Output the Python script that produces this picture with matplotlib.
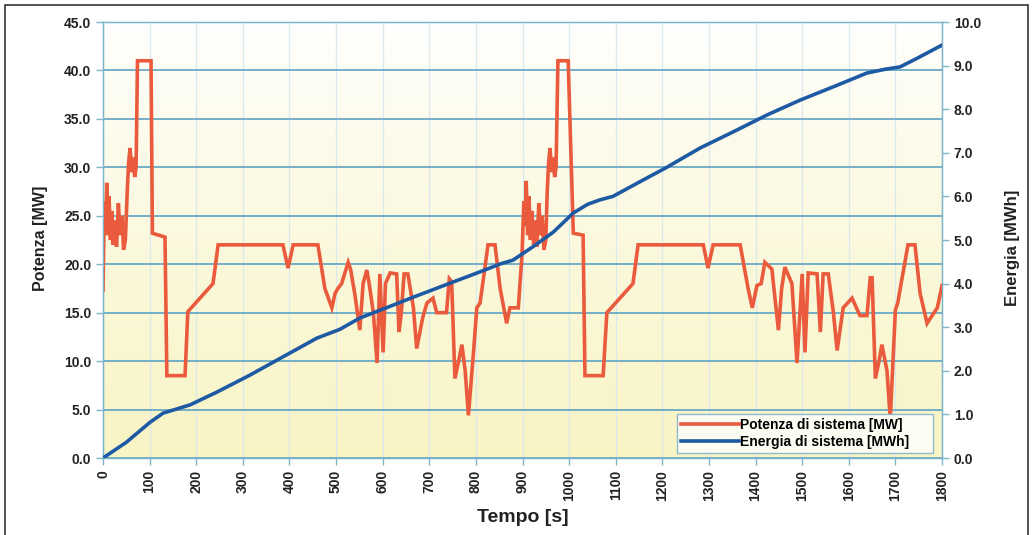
import numpy as np
import matplotlib
matplotlib.use("Agg")
import matplotlib.pyplot as plt
from matplotlib.lines import Line2D
from matplotlib.patches import Rectangle
from matplotlib.legend_handler import HandlerLine2D

plt.rcParams['font.family'] = ['Liberation Sans', 'DejaVu Sans']
plt.rcParams['font.weight'] = 'bold'

# System power [MW] versus time [s]
tempo_potenza = [
    0, 3, 6, 8, 10, 13, 16, 19, 22, 26, 29, 33, 37, 41, 44, 48, 52, 55, 58, 62,
    65, 68, 71, 74, 103, 106, 133, 137, 176, 182, 236, 247, 386, 397, 408, 461,
    476, 491, 498, 504, 512, 526, 531, 540, 551, 558, 566, 571, 580, 588, 594,
    601, 606, 616, 630, 635, 640, 646, 654, 666, 673, 686, 695, 708, 716, 737,
    743, 748, 755, 763, 770, 777, 784, 795, 802, 809, 826, 841, 852, 866, 873,
    891, 899, 903, 906, 908, 911, 914, 917, 920, 924, 927, 931, 935, 939, 942,
    946, 950, 953, 956, 959, 963, 966, 969, 972, 976, 998, 1009, 1030, 1034,
    1073, 1081, 1137, 1148, 1288, 1298, 1309, 1367, 1384, 1393, 1403, 1412,
    1420, 1435, 1449, 1456, 1463, 1478, 1489, 1500, 1506, 1513, 1532, 1539,
    1545, 1556, 1567, 1575, 1588, 1607, 1624, 1639, 1646, 1650, 1657, 1665,
    1671, 1682, 1689, 1700, 1705, 1727, 1742, 1753, 1768, 1776, 1790, 1800,
]
potenza = [
    17.3, 26.5, 24.0, 28.4, 23.0, 27.0, 22.5, 25.5, 22.0, 24.5, 21.8, 26.3,
    23.0, 25.0, 21.5, 22.5, 27.5, 30.5, 32.0, 29.5, 31.0, 29.0, 30.0, 41.0,
    41.0, 23.2, 22.8, 8.5, 8.5, 15.1, 18.0, 22.0, 22.0, 19.6, 22.0, 22.0,
    17.5, 15.5, 17.0, 17.5, 18.0, 20.2, 19.5, 17.0, 13.2, 18.0, 19.4, 18.0,
    15.0, 9.8, 19.0, 10.9, 18.0, 19.1, 19.0, 13.0, 15.0, 19.0, 19.0, 15.5,
    11.3, 14.5, 16.0, 16.5, 15.0, 15.0, 18.5, 18.2, 8.2, 10.0, 11.7, 9.0,
    4.4, 11.0, 15.5, 16.0, 22.0, 22.0, 17.5, 13.9, 15.5, 15.5, 21.0, 26.5,
    24.0, 28.6, 23.0, 27.0, 22.5, 25.5, 22.0, 24.5, 21.8, 26.3, 23.0, 25.0,
    21.5, 22.5, 27.5, 30.5, 32.0, 29.5, 31.0, 29.0, 30.0, 41.0, 41.0, 23.2,
    23.0, 8.5, 8.5, 15.0, 18.0, 22.0, 22.0, 19.6, 22.0, 22.0, 17.5, 15.5,
    17.8, 18.0, 20.2, 19.5, 13.2, 17.5, 19.7, 18.0, 9.8, 19.0, 10.9, 19.1,
    19.0, 13.0, 19.0, 19.0, 15.0, 11.1, 15.5, 16.5, 14.7, 14.7, 18.6, 18.6,
    8.2, 10.0, 11.7, 9.0, 4.0, 15.3, 16.0, 22.0, 22.0, 17.0, 13.9, 14.5,
    15.5, 17.8,
]

# Cumulative system energy [MWh] versus time [s]
tempo_energia = [
    0, 50, 101, 129, 160, 187, 244, 315, 386, 459, 508, 551, 609, 666, 752,
    809, 852, 880, 923, 966, 1009, 1040, 1066, 1094, 1137, 1210, 1281, 1352,
    1425, 1496, 1566, 1639, 1680, 1710, 1747, 1800,
]
energia = [
    0.0, 0.36, 0.82, 1.03, 1.13, 1.22, 1.51, 1.90, 2.32, 2.75, 2.95, 3.21,
    3.45, 3.69, 4.04, 4.27, 4.45, 4.54, 4.85, 5.18, 5.62, 5.82, 5.92, 6.00,
    6.25, 6.67, 7.11, 7.48, 7.87, 8.21, 8.51, 8.83, 8.92, 8.97, 9.17, 9.47,
]

x_ticks = list(range(0, 1801, 100))
y_ticks = [0, 5, 10, 15, 20, 25, 30, 35, 40, 45]
y2_ticks = list(range(0, 11))
legend_labels = ['Potenza di sistema [MW]', 'Energia di sistema [MWh]']

RED = '#ea5a3c'
BLUE = '#1e5aa3'
TXT = '#222222'

W, H = 1034, 535
fig = plt.figure(figsize=(W / 100, H / 100), dpi=100)
fig.patch.set_facecolor('white')

# outer frame
fig.add_artist(Rectangle((5 / W, -0.01), (1028 - 5) / W, (H - 5) / H + 0.01,
                         transform=fig.transFigure, fill=False,
                         edgecolor='#333333', linewidth=1.2))

left, right, top, bottom = 103, 942, 22, 458
ax = fig.add_axes([left / W, (H - bottom) / H, (right - left) / W, (bottom - top) / H])

# background gradient: white at top fading to pale yellow at the bottom
n = 256
frac = np.linspace(0, 1, n) ** 0.85
top_c = np.array([1.0, 1.0, 1.0])
bot_c = np.array([248, 244, 196]) / 255
grad = top_c[None, :] * (1 - frac[:, None]) + bot_c[None, :] * frac[:, None]
grad = np.repeat(grad[:, None, :], 2, axis=1)
ax.imshow(grad, extent=[0, 1800, 0, 45], aspect='auto', zorder=0, origin='upper')

ax.set_xlim(0, 1800)
ax.set_ylim(0, 45)
ax.set_xticks(x_ticks)
ax.set_yticks(y_ticks)
ax.set_xticklabels([str(v) for v in x_ticks], rotation=90, fontsize=10,
                   fontweight='bold', color=TXT)
ax.set_yticklabels([f"{v:.1f}" for v in y_ticks], fontsize=10,
                   fontweight='bold', color=TXT)
for v in x_ticks:
    ax.axvline(v, color='#dbe9ee', linewidth=0.9, zorder=1)
for v in y_ticks:
    ax.axhline(v, color='#6aa9c6', linewidth=1.3, zorder=1)

grid_blue = '#7db3cb'
for s in ax.spines.values():
    s.set_color(grid_blue)
    s.set_linewidth(1.0)
ax.tick_params(axis='both', colors=grid_blue, labelcolor=TXT, length=5, width=1)

ax.plot(tempo_potenza, potenza, color=RED, linewidth=2.6, zorder=3,
        solid_joinstyle='miter')

ax2 = ax.twinx()
ax2.set_ylim(0, 10)
ax2.set_yticks(y2_ticks)
ax2.set_yticklabels([f"{v:.1f}" for v in y2_ticks], fontsize=10,
                    fontweight='bold', color=TXT)
ax2.tick_params(axis='y', colors=grid_blue, labelcolor=TXT, length=5, width=1)
for s in ax2.spines.values():
    s.set_color(grid_blue)
ax2.plot(tempo_energia, energia, color=BLUE, linewidth=2.6, zorder=4)

fig.text(40 / W, 1 - 238 / H, 'Potenza [MW]', rotation=90, ha='center', va='center',
         fontsize=11.5, fontweight='bold', color=TXT)
fig.text(1012 / W, 1 - 248 / H, 'Energia [MWh]', rotation=90, ha='center', va='center',
         fontsize=12, fontweight='bold', color=TXT)
fig.text(523 / W, 1 - 517 / H, 'Tempo [s]', ha='center', va='center',
         fontsize=14, fontweight='bold', color=TXT)


class OffsetLineHandler(HandlerLine2D):
    """Legend line that starts part-way into the handle box."""

    def create_artists(self, legend, orig_handle, xdescent, ydescent,
                       width, height, fontsize, trans):
        artists = super().create_artists(legend, orig_handle, xdescent, ydescent,
                                         width, height, fontsize, trans)
        for a in artists:
            if isinstance(a, Line2D) and len(a.get_xdata()) == 2:
                x0, x1 = a.get_xdata()
                a.set_xdata([x0 + 0.36 * (x1 - x0), x1])
        return artists


handles = [Line2D([], [], color=RED, linewidth=2.6),
           Line2D([], [], color=BLUE, linewidth=2.6)]
leg = ax2.legend(handles, [lbl + '     ' for lbl in legend_labels],
                 loc='lower right', bbox_to_anchor=(0.989, 0.011),
                 prop={'weight': 'bold', 'size': 10}, handlelength=4.2,
                 handletextpad=0.05, borderpad=0.3, labelspacing=0.2,
                 fancybox=False, framealpha=1.0, borderaxespad=0,
                 handler_map={Line2D: OffsetLineHandler()})
leg.get_frame().set_edgecolor('#8fbacb')
leg.get_frame().set_linewidth(1.0)
leg.get_frame().set_facecolor('#fdfcf3')

fig.savefig('out.png', dpi=100)
